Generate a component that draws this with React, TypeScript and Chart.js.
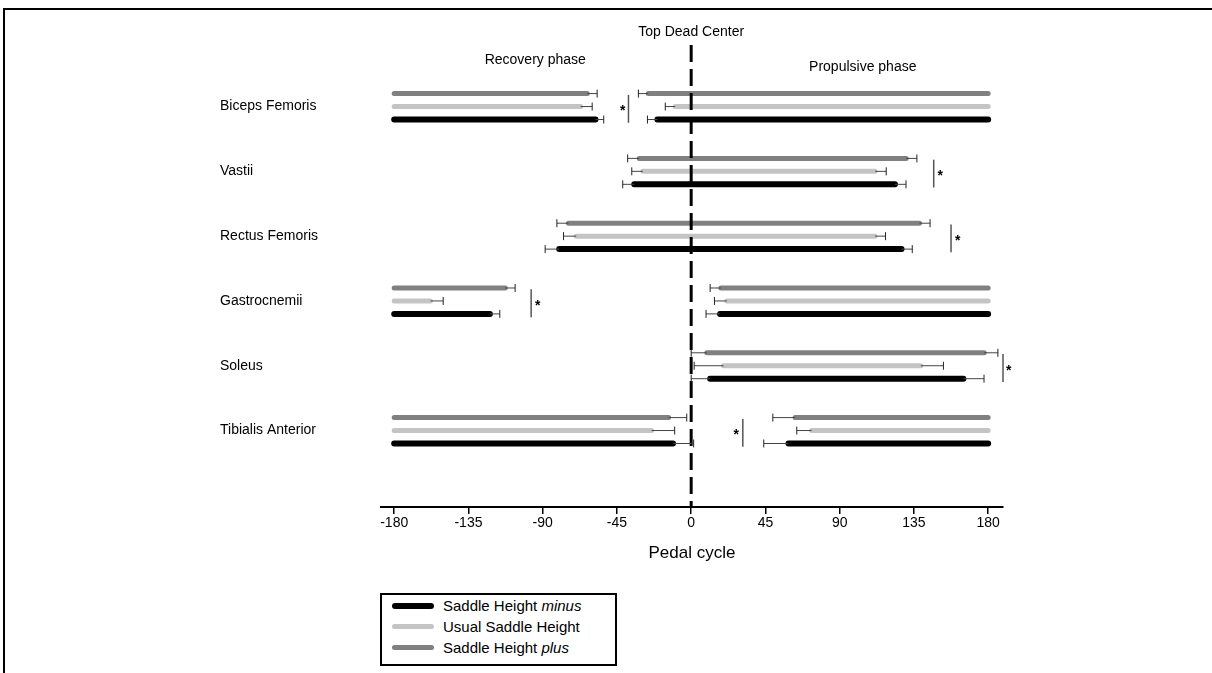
import React, { useEffect, useRef } from 'react';
import { Chart, registerables } from 'chart.js';

Chart.register(...registerables);

const FONT = '"Liberation Sans", Arial, sans-serif';

const muscles = ['Biceps Femoris', 'Vastii', 'Rectus Femoris', 'Gastrocnemii', 'Soleus', 'Tibialis Anterior'];
const xTicks = [-180, -135, -90, -45, 0, 45, 90, 135, 180];

// segments: [muscle index, onset (deg), offset (deg), onset SD, offset SD]
const minusSegments = [
  [0, -180, -58, 0, 5], [0, -20.5, 180, 6, 0],
  [1, -34.5, 123.5, 7, 6.7],
  [2, -80, 127.5, 8.5, 6.5],
  [3, -180, -122, 0, 6], [3, 17.5, 180, 8.5, 0],
  [4, 11.5, 165, 11.5, 12.5],
  [5, -180, -11, 0, 12.5], [5, 59, 180, 15, 0],
];
const usualSegments = [
  [0, -180, -67, 0, 7], [0, -9.7, 180, 6, 0],
  [1, -29.3, 111.5, 6.7, 6.7],
  [2, -69.7, 111.5, 7.7, 6.3],
  [3, -180, -158, 0, 7.7], [3, 21.6, 180, 7.5, 0],
  [4, 19.6, 139.2, 17.8, 13.7],
  [5, -180, -24, 0, 14], [5, 73, 180, 9, 0],
];
const plusSegments = [
  [0, -180, -63, 0, 6], [0, -26, 180, 6, 0],
  [1, -31.5, 130.3, 7, 6.5],
  [2, -74.4, 138.4, 7, 6.4],
  [3, -180, -112.7, 0, 6], [3, 18, 180, 6.5, 0],
  [4, 9.5, 177.6, 9.5, 8.3],
  [5, -180, -13.7, 0, 11], [5, 63, 180, 13.5, 0],
];

// significance markers: [muscle index, line position (deg), asterisk position (deg)]
const sigMarkers = [
  [0, -38, -41.5],
  [1, 147, 151],
  [2, 157.5, 161.5],
  [3, -97, -93],
  [4, 189, 192.5],
  [5, 31.3, 27.3],
];

const conditionNames = ['Saddle Height minus', 'Usual Saddle Height', 'Saddle Height plus'];
const conditionColors = ['#000000', '#c4c4c4', '#808080'];
const conditionWidths = [6, 5, 5];
const conditionOffsets = [0.2, 0, -0.2];

const phaseLabels = [
  { text: 'Top Dead Center', x: 0, dy: -13 },
  { text: 'Recovery phase', x: -94.5, dy: 15 },
  { text: 'Propulsive phase', x: 104, dy: 22 },
];

const annotationsPlugin = {
  id: 'annotations',
  afterDatasetsDraw(chart: any) {
    const { ctx, scales, chartArea } = chart;
    const xs = scales.x;
    const ys = scales.y;
    ctx.save();
    // error bars
    const all = [minusSegments, usualSegments, plusSegments];
    all.forEach((segs, ci) => {
      segs.forEach((s) => {
        const [row, on, off, sdOn, sdOff] = s;
        const y = ys.getPixelForValue(row + conditionOffsets[ci]);
        const drawErr = (from: number, to: number) => {
          const a = xs.getPixelForValue(from);
          const b = xs.getPixelForValue(to);
          ctx.strokeStyle = '#444';
          ctx.lineWidth = 1;
          ctx.beginPath();
          ctx.moveTo(a, y);
          ctx.lineTo(b, y);
          ctx.stroke();
          ctx.strokeStyle = '#222';
          ctx.beginPath();
          ctx.moveTo(b, y - 4);
          ctx.lineTo(b, y + 4);
          ctx.stroke();
        };
        if (sdOn > 0) drawErr(on, on - sdOn);
        if (sdOff > 0) drawErr(off, off + sdOff);
      });
    });
    // significance markers
    sigMarkers.forEach(([row, lx, sx]) => {
      const px = xs.getPixelForValue(lx);
      const y0 = ys.getPixelForValue(row - 0.18);
      const y1 = ys.getPixelForValue(row + 0.25);
      ctx.strokeStyle = '#555';
      ctx.lineWidth = 1.5;
      ctx.beginPath();
      ctx.moveTo(px, y0);
      ctx.lineTo(px, y1);
      ctx.stroke();
      ctx.fillStyle = '#000';
      ctx.font = `bold 14px ${FONT}`;
      ctx.textAlign = 'center';
      ctx.textBaseline = 'middle';
      ctx.fillText('*', xs.getPixelForValue(sx), ys.getPixelForValue(row) + 5);
    });
    // phase labels
    ctx.fillStyle = '#000';
    ctx.font = `14px ${FONT}`;
    ctx.textAlign = 'center';
    ctx.textBaseline = 'middle';
    phaseLabels.forEach((p) => {
      ctx.fillText(p.text, xs.getPixelForValue(p.x), chartArea.top + p.dy);
    });
    ctx.restore();
  },
};

function buildDatasets() {
  const ds: any[] = [];
  ds.push({
    label: 'TDC',
    data: [{ x: 0, y: -0.95 }, { x: 0, y: 6.18 }],
    borderColor: '#000',
    borderWidth: 3,
    borderDash: [17, 7],
    pointRadius: 0,
    showLine: true,
    order: 0,
  });
  [minusSegments, usualSegments, plusSegments].forEach((segs, ci) => {
    segs.forEach((s) => {
      const [row, on, off] = s;
      const y = row + conditionOffsets[ci];
      ds.push({
        label: conditionNames[ci],
        data: [{ x: on, y }, { x: off, y }],
        borderColor: conditionColors[ci],
        borderWidth: conditionWidths[ci],
        borderCapStyle: 'round',
        pointRadius: 0,
        showLine: true,
        order: 1,
      });
    });
  });
  return ds;
}

export default function App() {
  const canvasRef = useRef<HTMLCanvasElement | null>(null);

  useEffect(() => {
    const canvas = canvasRef.current;
    if (!canvas) return;
    const chart = new Chart(canvas, {
      type: 'scatter',
      data: { datasets: buildDatasets() },
      options: {
        responsive: false,
        animation: false,
        maintainAspectRatio: false,
        layout: { padding: { left: 220, right: 209, top: 45, bottom: 106 } },
        plugins: { legend: { display: false }, tooltip: { enabled: false } },
        scales: {
          x: {
            type: 'linear',
            min: -188,
            max: 189,
            afterBuildTicks: (s: any) => {
              s.ticks = xTicks.map((v) => ({ value: v }));
            },
            afterFit: (s: any) => {
              s.height = 60;
            },
            ticks: {
              autoSkip: false,
              maxRotation: 0,
              color: '#000',
              padding: 1,
              font: { family: FONT, size: 14 },
            },
            grid: {
              display: true,
              drawOnChartArea: false,
              drawTicks: true,
              tickLength: 7,
              color: '#000',
              lineWidth: 1.5,
            },
            border: { display: true, color: '#000', width: 2 },
            title: {
              display: true,
              text: 'Pedal cycle',
              color: '#000',
              font: { family: FONT, size: 17 },
              padding: { top: 2, bottom: 3 },
            },
          },
          y: {
            type: 'linear',
            reverse: true,
            min: -0.95,
            max: 6.18,
            afterBuildTicks: (s: any) => {
              s.ticks = muscles.map((_, i) => ({ value: i }));
            },
            afterFit: (s: any) => {
              s.width = 161;
            },
            ticks: {
              autoSkip: false,
              crossAlign: 'far',
              color: '#000',
              font: { family: FONT, size: 14 },
              callback: (v: any) => muscles[v as number] ?? '',
            },
            grid: { display: false },
            border: { display: false },
          },
        },
      } as any,
      plugins: [annotationsPlugin],
    });
    return () => chart.destroy();
  }, []);

  const legendRow = (i: number, content: React.ReactNode) => (
    <div style={{ display: 'flex', alignItems: 'center', height: 21 }}>
      <span
        style={{
          display: 'inline-block',
          width: 42,
          height: conditionWidths[i],
          borderRadius: 3,
          background: conditionColors[i],
          marginRight: 9,
        }}
      />
      <span>{content}</span>
    </div>
  );

  return (
    <div style={{ position: 'fixed', left: 0, top: 0, width: 1212, height: 673, background: '#fff', overflow: 'hidden' }}>
      <div
        style={{
          position: 'absolute',
          left: 3,
          top: 8,
          width: 1220,
          height: 700,
          borderTop: '2px solid #000',
          borderLeft: '2px solid #000',
        }}
      />
      <canvas ref={canvasRef} width={1212} height={673} style={{ position: 'absolute', left: 0, top: 0 }} />
      <div
        style={{
          position: 'absolute',
          left: 380,
          top: 593,
          width: 223,
          height: 69,
          border: '2px solid #000',
          fontFamily: FONT,
          fontSize: 15,
          color: '#000',
          paddingLeft: 10,
          paddingTop: 0,
          boxSizing: 'content-box',
          background: '#fff',
        }}
      >
        {legendRow(0, <>Saddle Height <i>minus</i></>)}
        {legendRow(1, <>Usual Saddle Height</>)}
        {legendRow(2, <>Saddle Height <i>plus</i></>)}
      </div>
    </div>
  );
}
